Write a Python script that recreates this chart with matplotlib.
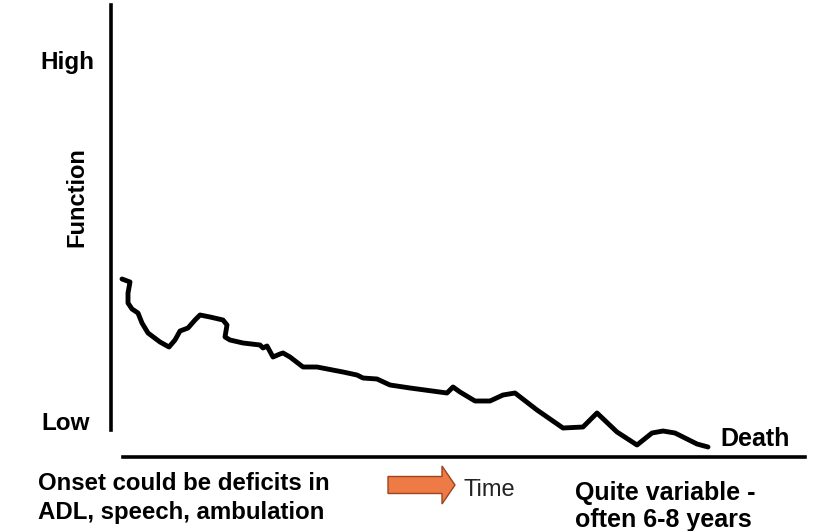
import matplotlib.pyplot as plt
from matplotlib.patches import FancyArrow

# disease course (time and function in arbitrary units)
time = [11, 19, 17, 17, 21, 27, 31, 37, 49, 58, 64, 69, 77, 84, 89, 99, 112, 116, 114, 119,
        132, 149, 152, 156, 162, 169, 172, 179, 192, 206, 232, 246, 252, 266, 279, 299,
        336, 342, 349, 364, 379, 392, 404, 426, 452, 472, 486, 506, 526, 541, 552, 564,
        586, 597]
function = [178, 175, 164, 154, 148, 144, 134, 124, 115, 110, 117, 126, 129, 137, 142, 140,
            137, 132, 120, 117, 114, 112, 109, 111, 100, 103, 104, 100, 90, 90, 85, 82, 79,
            78, 72, 69, 64, 70, 65, 56, 56, 62, 64, 47, 29, 30, 44, 25, 12, 24, 26, 24, 13, 10]

y_labels = ['High', 'Low']
onset_lines = ['Onset could be deficits in', 'ADL, speech, ambulation']
end_lines = ['Quite variable -', 'often 6-8 years']

plt.rcParams['font.family'] = ['Liberation Sans', 'DejaVu Sans']

W, H = 815, 531
fig = plt.figure(figsize=(W / 100, H / 100), dpi=100)

# main axes: origin where the two axis lines would meet
ax = fig.add_axes([111 / W, 1 - 457 / H, 694 / W, 452 / H])
ax.set_xlim(0, 694)
ax.set_ylim(0, 452)
ax.plot(time, function, color='black', lw=3.5, solid_capstyle='round', solid_joinstyle='round')
for s in ['top', 'right']:
    ax.spines[s].set_visible(False)
ax.spines['left'].set_bounds(27, 452)
ax.spines['bottom'].set_bounds(12, 694)
ax.spines['left'].set_linewidth(2.6)
ax.spines['bottom'].set_linewidth(2.6)
ax.set_xticks([])
ax.set_yticks([])

# overlay in pixel units for labels
ov = fig.add_axes([0, 0, 1, 1])
ov.set_xlim(0, W)
ov.set_ylim(H, 0)
ov.axis('off')

bold = dict(fontweight='bold', va='baseline', ha='left')
ov.text(40, 69, y_labels[0], fontsize=17.5, **bold)
ov.text(41, 430, y_labels[1], fontsize=17.5, **bold)
ov.text(77, 197, 'Function', fontsize=17, fontweight='bold', rotation=90,
        va='center', ha='center')
ov.text(720, 446, 'Death', fontsize=18, **bold)

ov.text(38, 490, onset_lines[0], fontsize=17.3, **bold)
ov.text(38, 519, onset_lines[1], fontsize=17.3, **bold)
ov.text(575, 500, end_lines[0], fontsize=18, **bold)
ov.text(575, 527, end_lines[1], fontsize=18, **bold)
ov.text(463, 496, 'Time', fontsize=17, va='baseline', ha='left', color='#222222')

ov.add_patch(FancyArrow(388, 485, 54, 0, width=17, head_width=38, head_length=13,
                        length_includes_head=False, fc='#EE7A45', ec='#9C4520', lw=1))

fig.savefig('out.png', dpi=100)
